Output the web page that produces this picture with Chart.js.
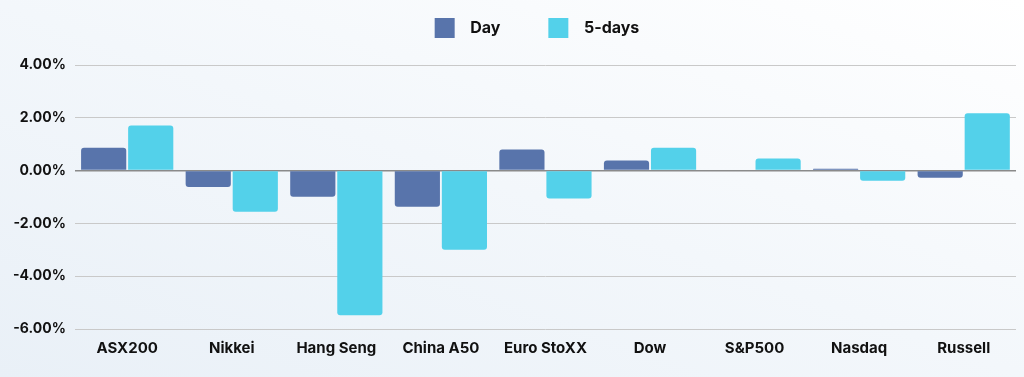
<!DOCTYPE html>
<html>
<head>
<meta charset="utf-8">
<script src="https://cdn.jsdelivr.net/npm/chart.js@4"></script>
<style>
  html, body { margin: 0; padding: 0; }
  body {
    width: 1024px; height: 377px;
    background: linear-gradient(20deg, #e9f0f7 0%, #f3f7fb 50%, #ffffff 100%);
  }
  #wrap { width: 1024px; height: 377px; }
</style>
</head>
<body>
<div id="wrap"><canvas id="marketChart"></canvas></div>
<script>
const indices = ['ASX200', 'Nikkei', 'Hang Seng', 'China A50', 'Euro StoXX', 'Dow', 'S&P500', 'Nasdaq', 'Russell'];
const dayChange = [0.87, -0.62, -0.99, -1.37, 0.80, 0.38, 0.0, 0.07, -0.27];
const fiveDayChange = [1.71, -1.56, -5.48, -3.0, -1.06, 0.87, 0.46, -0.38, 2.17];
const yTicks = [-6, -4, -2, 0, 2, 4];

const fontFamily = 'Inter, "Open Sans", sans-serif';

// extra room under the legend, and centre it over the plot rather than the canvas
const legendSpacer = {
  id: 'legendSpacer',
  beforeInit(chart) {
    const origFit = chart.legend.fit;
    chart.legend.fit = function() {
      origFit.bind(chart.legend)();
      this.height += 17;
    };
  },
  afterLayout(chart) {
    chart.legend.left += 27;
    chart.legend.right += 27;
  }
};

const ctx = document.getElementById('marketChart').getContext('2d');

new Chart(ctx, {
  type: 'bar',
  data: {
    labels: indices,
    datasets: [
      {
        label: 'Day',
        data: dayChange,
        backgroundColor: '#5874ab',
        borderRadius: 3,
        borderSkipped: 'start'
      },
      {
        label: '5-days',
        data: fiveDayChange,
        backgroundColor: '#53d1ea',
        borderRadius: 3,
        borderSkipped: 'start'
      }
    ]
  },
  plugins: [legendSpacer],
  options: {
    responsive: true,
    maintainAspectRatio: false,
    animation: false,
    layout: { padding: { left: 4, right: 8, top: 8, bottom: 10 } },
    datasets: {
      bar: { categoryPercentage: 0.9, barPercentage: 0.96 }
    },
    scales: {
      x: {
        grid: { display: false, drawTicks: false },
        border: { display: false },
        ticks: {
          color: '#111',
          padding: 10,
          font: { family: fontFamily, size: 15, weight: 'bold' }
        }
      },
      y: {
        min: -6,
        max: 4,
        afterBuildTicks: function(axis) {
          axis.ticks = yTicks.map(v => ({ value: v }));
        },
        grid: {
          drawTicks: false,
          color: function(c) {
            return c.tick && c.tick.value === 0 ? '#8a8a8a' : '#c9c9c9';
          },
          lineWidth: function(c) {
            return c.tick && c.tick.value === 0 ? 1.5 : 1;
          }
        },
        border: { display: false },
        ticks: {
          color: '#111',
          padding: 9,
          font: { family: fontFamily, size: 14, weight: 'bold' },
          callback: function(value) {
            return value.toFixed(2) + '%';
          }
        }
      }
    },
    plugins: {
      legend: {
        position: 'top',
        labels: {
          color: '#111',
          boxWidth: 20,
          boxHeight: 20,
          padding: 10,
          font: { family: fontFamily, size: 16, weight: 'bold' },
          generateLabels: function(chart) {
            const items = Chart.defaults.plugins.legend.labels.generateLabels(chart);
            items.forEach((item, i) => {
              item.text = '  ' + item.text + (i === 0 ? '          ' : '');
            });
            return items;
          }
        }
      },
      tooltip: { enabled: false }
    }
  }
});
</script>
</body>
</html>
